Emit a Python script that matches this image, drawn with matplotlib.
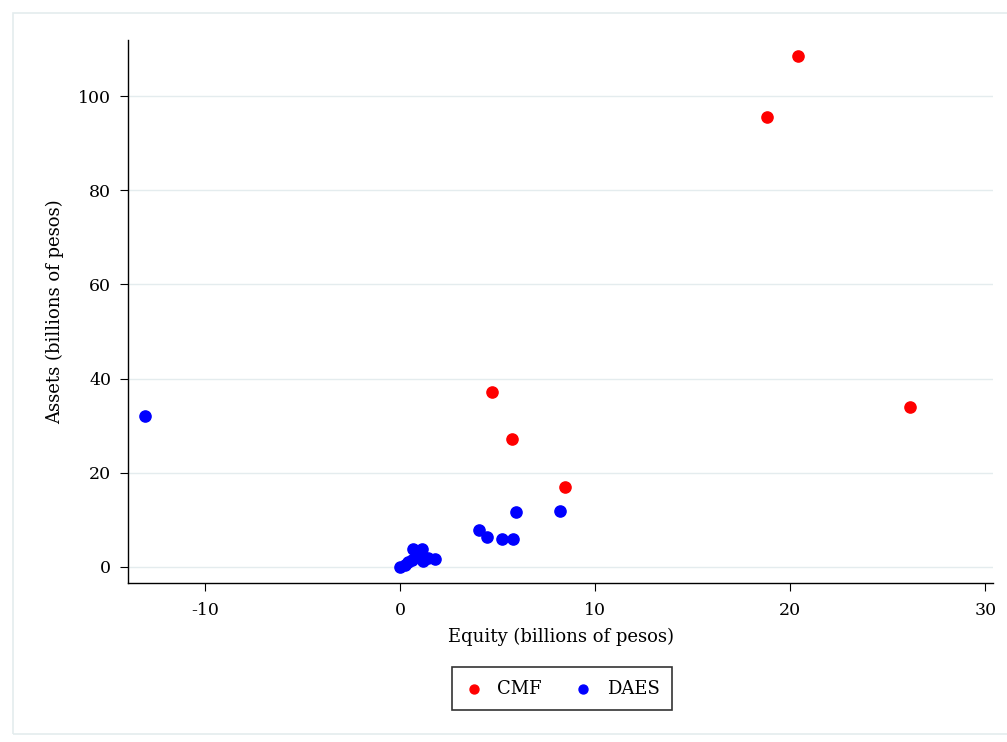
import matplotlib.pyplot as plt
from matplotlib.patches import Rectangle

# データ（単位：十億ペソ）
cmf_equity = [20.4, 18.8, 4.7, 5.75, 8.45, 26.15]
cmf_assets = [108.5, 95.5, 37.2, 27.2, 17.0, 34.0]

daes_equity = [-13.1, 5.95, 8.2, 4.05, 4.45, 5.25, 5.8,
               0.0, 0.25, 0.6, 0.9, 0.65, 1.1, 1.45, 1.8, 0.4, 1.2]
daes_assets = [32.1, 11.7, 11.9, 7.9, 6.4, 5.9, 5.9,
               0.0, 0.5, 1.5, 2.3, 3.8, 3.8, 1.9, 1.7, 1.0, 1.2]

xticks = [-10, 0, 10, 20, 30]
yticks = [0, 20, 40, 60, 80, 100]

plt.rcParams['font.family'] = ['DejaVu Serif']

fig = plt.figure(figsize=(10.07, 7.42), dpi=100)
# 外枠
fig.patches.append(Rectangle((13 / 1007, 8 / 742), 1.0, 1 - 21 / 742,
                             transform=fig.transFigure, fill=False,
                             edgecolor='#e4ecee', linewidth=1.2))
ax = fig.add_axes([128 / 1007, 1 - 583 / 742, (993 - 128) / 1007, (583 - 40) / 742])

ax.scatter(cmf_equity, cmf_assets, s=65, color='#ff0000', label='CMF', zorder=3)
ax.scatter(daes_equity, daes_assets, s=65, color='#0000ff', label='DAES', zorder=3)

ax.set_xlim(-13.95, 30.4)
ax.set_ylim(-3.4, 111.9)
ax.set_xticks(xticks)
ax.set_yticks(yticks)
ax.set_xticklabels(['-10', '0', '10', '20', '30'])
ax.tick_params(labelsize=12.5, direction='out', length=6, width=0.8, colors='black')
ax.tick_params(axis='x', pad=8)
ax.tick_params(axis='y', pad=6)
ax.grid(axis='y', color='#e4ecee', linewidth=1)
ax.set_axisbelow(True)
for side in ['top', 'right']:
    ax.spines[side].set_visible(False)
for side in ['left', 'bottom']:
    ax.spines[side].set_linewidth(1)

ax.set_xlabel('Equity (billions of pesos)', fontsize=13, labelpad=6)
ax.set_ylabel('Assets (billions of pesos)', fontsize=13, labelpad=10)

leg = ax.legend(loc='upper center', bbox_to_anchor=(0.502, -0.155), ncol=2,
                fontsize=13, frameon=True, fancybox=False, handletextpad=0.8,
                columnspacing=1.8, borderpad=0.7, handlelength=1.0,
                markerscale=0.8, borderaxespad=0)
leg.get_frame().set_edgecolor('black')
leg.get_frame().set_linewidth(1.2)

fig.savefig('out.png', dpi=100)
